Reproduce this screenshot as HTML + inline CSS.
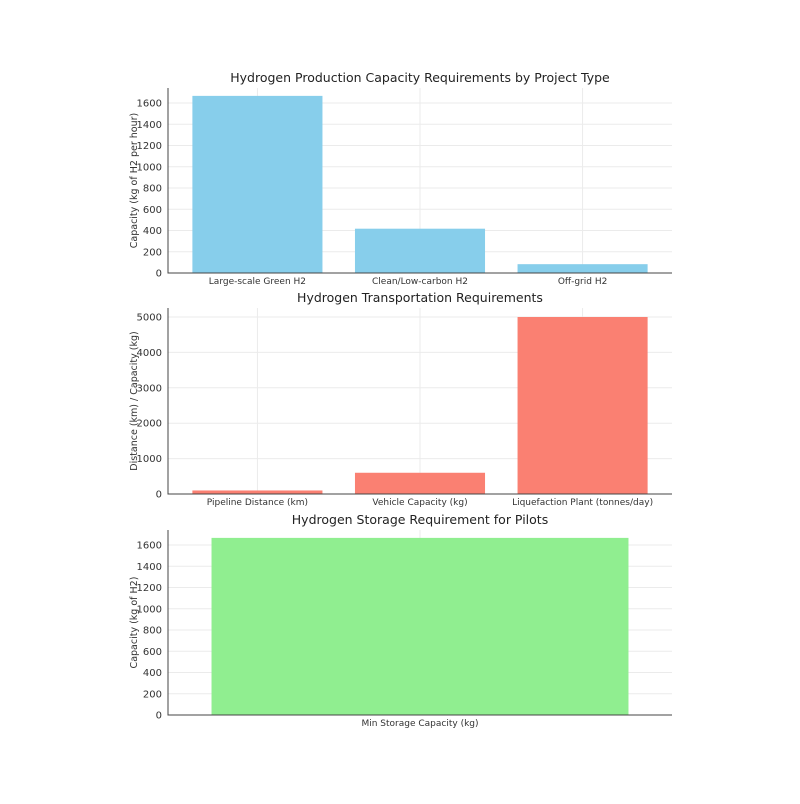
<!DOCTYPE html>
<html><head><meta charset="utf-8"><style>
body{margin:0;background:#fff;font-family:"DejaVu Sans","Liberation Sans",sans-serif;}
</style></head><body>
<svg id="c" width="800" height="800" xmlns="http://www.w3.org/2000/svg"></svg>
<script>
const prodCats=["Large-scale Green H2","Clean/Low-carbon H2","Off-grid H2"];
const prodVals=[1667,417,83];
const prodTicks=[0,200,400,600,800,1000,1200,1400,1600];
const transCats=["Pipeline Distance (km)","Vehicle Capacity (kg)","Liquefaction Plant (tonnes/day)"];
const transVals=[100,600,5000];
const transTicks=[0,1000,2000,3000,4000,5000];
const storCats=["Min Storage Capacity (kg)"];
const storVals=[1667];
const storTicks=[0,200,400,600,800,1000,1200,1400,1600];
const svg=document.getElementById('c');
const NS="http://www.w3.org/2000/svg";
function mk(t,a,p){const e=document.createElementNS(NS,t);for(const k in a)e.setAttribute(k,a[k]);(p||svg).appendChild(e);return e;}
function panel(o){
  const g=mk('g',{});
  
  
  const L=168,R=672,T=o.top,B=o.bottom;
  const y=v=>B-(v/o.ymax)*(B-T-o.pad);
  const n=o.cats.length;
  const unit=(R-L)/o.span;
  const x=i=>L+(o.x0+i)*unit;
  o.ticks.forEach(t=>{
    const l=mk('line',{x1:L,x2:R,y1:y(t),y2:y(t),stroke:'#ebebeb','stroke-width':1},g);
    
    
    const tx=mk('text',{x:L-6,y:y(t)+3.5,'text-anchor':'end','font-size':10,fill:'#333'},g);
    tx.textContent=t;
    
    
  });
  o.cats.forEach((c,i)=>{
    const l=mk('line',{x1:x(i),x2:x(i),y1:T,y2:B,stroke:'#ebebeb','stroke-width':1},g);
    
    
  });
  o.cats.forEach((c,i)=>{
    const w=o.bw*unit;
    const r=mk('rect',{x:x(i)-w/2,y:y(o.vals[i]),width:w,height:B-y(o.vals[i]),fill:o.color},g);
    
    
    const tx=mk('text',{x:x(i),y:B+11,'text-anchor':'middle','font-size':9,fill:'#333'},g);
    tx.textContent=c;
    
    
  });
  const ax=mk('path',{d:`M${L} ${T}V${B}H${R}`,fill:'none',stroke:'#444','stroke-width':1},g);
  
  
  const ti=mk('text',{x:420,y:T-6,'text-anchor':'middle','font-size':12.5,fill:'#222'},g);
  ti.textContent=o.title;
  
  
  const cy=(T+B)/2;
  const yl=mk('text',{x:137,y:cy,'text-anchor':'middle','font-size':9.5,fill:'#333',transform:`rotate(-90 137 ${cy})`},g);
  yl.textContent=o.ylabel;
  
  
}
panel({name:'production-chart',cats:prodCats,vals:prodVals,ticks:prodTicks,ymax:1600,top:88,bottom:273,pad:15,span:3.1,x0:0.55,bw:0.8,color:'#87ceeb',title:'Hydrogen Production Capacity Requirements by Project Type',ylabel:'Capacity (kg of H2 per hour)'});
panel({name:'transportation-chart',cats:transCats,vals:transVals,ticks:transTicks,ymax:5000,top:308,bottom:494,pad:9,span:3.1,x0:0.55,bw:0.8,color:'#fa8072',title:'Hydrogen Transportation Requirements',ylabel:'Distance (km) / Capacity (kg)'});
panel({name:'storage-chart',cats:storCats,vals:storVals,ticks:storTicks,ymax:1600,top:530,bottom:715,pad:15,span:1.1,x0:0.55,bw:0.91,color:'#90ee90',title:'Hydrogen Storage Requirement for Pilots',ylabel:'Capacity (kg of H2)'});
</script>
</body></html>
